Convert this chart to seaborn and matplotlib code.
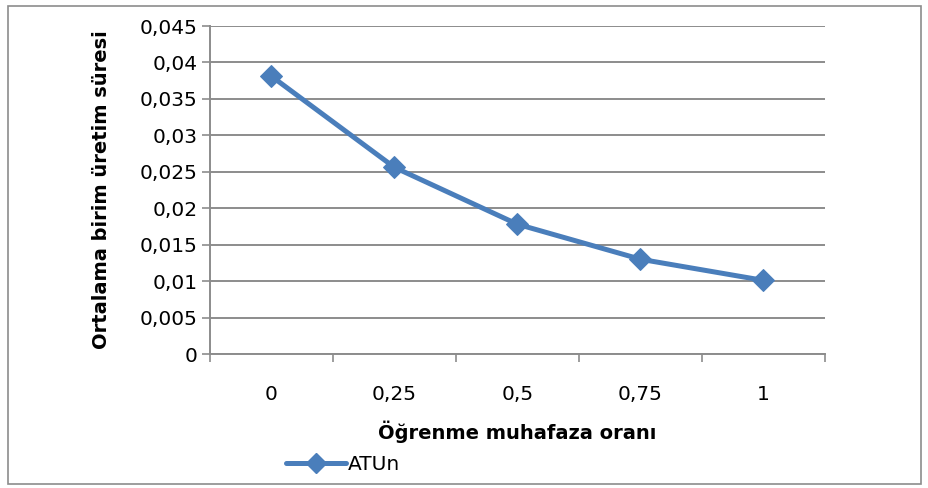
import matplotlib
matplotlib.use("Agg")
import matplotlib.pyplot as plt
import seaborn as sns
import pandas as pd
from matplotlib.patches import Rectangle
from matplotlib.lines import Line2D

categories = ["0", "0,25", "0,5", "0,75", "1"]
atun = [0.0381, 0.0256, 0.0178, 0.0130, 0.0101]
yticks = [0, 0.005, 0.01, 0.015, 0.02, 0.025, 0.03, 0.035, 0.04, 0.045]
ytick_labels = ["0", "0,005", "0,01", "0,015", "0,02", "0,025", "0,03", "0,035", "0,04", "0,045"]
series_name = "ATUn"
xlabel = "Öğrenme muhafaza oranı"
ylabel = "Ortalama birim üretim süresi"

sns.set_theme(style="white")
plt.rcParams['font.family'] = ['DejaVu Sans']
plt.rcParams['text.color'] = 'black'
plt.rcParams['axes.labelcolor'] = 'black'

color = "#4A7EBB"
grid_c = "#8C8C8C"

fig = plt.figure(figsize=(9.29, 4.88), dpi=100)
W, H = 929, 488
ax = fig.add_axes([210 / W, 1 - 354 / H, (825 - 210) / W, (354 - 26) / H])

df = pd.DataFrame({"x": categories, "y": atun})
sns.lineplot(data=df, x="x", y="y", ax=ax, color=color, linewidth=3.6,
             marker="D", markersize=11.5, markeredgecolor=color, sort=False)

ax.set_ylim(0, 0.045)
ax.set_xlim(-0.5, 4.5)
ax.set_yticks(yticks)
ax.set_yticklabels(ytick_labels, fontsize=14.5, color="black")
ax.set_xticks(range(len(categories)))
ax.set_xticklabels(categories, fontsize=14.5, color="black")
ax.tick_params(axis="x", length=0, pad=22)
ax.tick_params(axis="y", length=6, width=1.2, color=grid_c, direction="out", pad=3, left=True)
ax.set_xticks([i - 0.5 for i in range(len(categories) + 1)], minor=True)
ax.tick_params(axis="x", which="minor", length=6, width=1.2, color=grid_c, direction="out", bottom=True)

ax.yaxis.grid(True, color=grid_c, linewidth=1.4)
ax.xaxis.grid(False)
ax.set_axisbelow(True)
for s in ["top", "right"]:
    ax.spines[s].set_visible(False)
for s in ["left", "bottom"]:
    ax.spines[s].set_color(grid_c)
    ax.spines[s].set_linewidth(1.4)

ax.set_xlabel(xlabel, fontsize=14, fontweight="bold", color="black")
ax.xaxis.set_label_coords(0.5, -(432 - 354) / 328, transform=ax.transAxes)
ax.xaxis.label.set_verticalalignment("center")
ax.set_ylabel(ylabel, fontsize=14, fontweight="bold", color="black")
ax.yaxis.set_label_coords(-(210 - 102) / 615, 0.5)
ax.yaxis.label.set_verticalalignment("center")

if ax.get_legend() is not None:
    ax.get_legend().remove()
handle = Line2D([0], [0], color=color, linewidth=3.6, marker="D", markersize=10)
leg = fig.legend([handle], [series_name], loc="center", bbox_to_anchor=(343 / W, 1 - 465 / H),
                 frameon=False, fontsize=14.5, handlelength=3.0, handletextpad=0.1, borderpad=0)
for t in leg.get_texts():
    t.set_color("black")

fig.patches.append(Rectangle((8 / W, 4 / H), (921 - 8) / W, (482 - 4) / H,
                             transform=fig.transFigure, fill=False,
                             edgecolor="#8C8C8C", linewidth=1.2))

fig.savefig("out.png", dpi=100)
